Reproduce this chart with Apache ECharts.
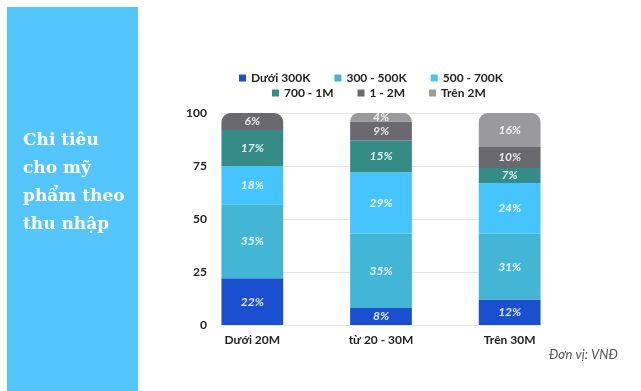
<!DOCTYPE html>
<html>
<head>
<meta charset="utf-8">
<script src="https://cdn.jsdelivr.net/npm/echarts@6/dist/echarts.min.js"></script>
<style>
html,body{margin:0;padding:0;background:#fff;}
#c{width:641px;height:391px;}
</style>
</head>
<body>
<div id="c"></div>
<script>
// ---- data ----
var categories = ['Dưới 20M', 'từ 20 - 30M', 'Trên 30M'];
var seriesNames = ['Dưới 300K', '300 - 500K', '500 - 700K', '700 - 1M', '1 - 2M', 'Trên 2M'];
var s300K  = [22, 8, 12];
var s300_500 = [35, 35, 31];
var s500_700 = [18, 29, 24];
var s700_1M = [17, 15, 7];
var s1_2M  = [8, 9, 10];
var sTren2M = [0, 4, 16];
// label texts as printed on the chart
var lbl300K  = ['22%', '8%', '12%'];
var lbl300_500 = ['35%', '35%', '31%'];
var lbl500_700 = ['18%', '29%', '24%'];
var lbl700_1M = ['17%', '15%', '7%'];
var lbl1_2M  = ['6%', '9%', '10%'];
var lblTren2M = ['', '4%', '16%'];
var yTicks = [0, 25, 50, 75, 100];
var titleText = 'Chi tiêu\ncho mỹ\nphẩm theo\nthu nhập';
var unitText = 'Đơn vị: VNĐ';

var colors = ['#1a4fcf', '#43b6d6', '#45c4fd', '#358c86', '#69696f', '#9a9a9c'];
var allValues = [s300K, s300_500, s500_700, s700_1M, s1_2M, sTren2M];
var allLabels = [lbl300K, lbl300_500, lbl500_700, lbl700_1M, lbl1_2M, lblTren2M];

// find top-most non-zero segment per category for rounded top
function isTop(si, ci) {
  for (var k = allValues.length - 1; k >= 0; k--) {
    if (allValues[k][ci] > 0) return k === si;
  }
  return false;
}

var series = allValues.map(function (vals, si) {
  return {
    name: seriesNames[si],
    type: 'bar',
    stack: 'total',
    xAxisIndex: 0,
    yAxisIndex: 0,
    barWidth: '48%',
    itemStyle: { color: colors[si] },
    data: vals.map(function (v, ci) {
      return {
        value: v,
        itemStyle: { borderRadius: isTop(si, ci) ? [9, 9, 0, 0] : 0 },
        label: { formatter: allLabels[si][ci] }
      };
    }),
    label: {
      show: true,
      position: 'inside',
      color: 'rgba(255,255,255,0.85)',
      fontStyle: 'italic',
      fontFamily: 'Lato',
      fontWeight: 'bold',
      fontSize: 12
    }
  };
});

var chart = echarts.init(document.getElementById('c'), null, { renderer: 'canvas' });
chart.setOption({
  animation: false,
  backgroundColor: '#ffffff',
  color: colors,
  legend: [
    {
      data: seriesNames.slice(0, 3),
      left: 234, top: 67,
      itemWidth: 7, itemHeight: 7, itemGap: 24,
      icon: 'rect',
      textStyle: { fontFamily: 'Lato', fontWeight: 'bold', fontSize: 12, color: '#222' }
    },
    {
      data: seriesNames.slice(3),
      left: 267, top: 82,
      itemWidth: 7, itemHeight: 7, itemGap: 24,
      icon: 'rect',
      textStyle: { fontFamily: 'Lato', fontWeight: 'bold', fontSize: 12, color: '#222' }
    }
  ],
  grid: [
    { left: 188, right: 67, top: 113, bottom: 66 },
    { left: 221, right: 100, top: 113, bottom: 66 }
  ],
  xAxis: [
    {
      type: 'category', gridIndex: 0, data: categories,
      axisLine: { show: false }, axisTick: { show: false },
      axisLabel: { margin: 9, fontFamily: 'Lato', fontWeight: 'bold', fontSize: 12, color: '#222' }
    },
    {
      type: 'value', gridIndex: 1, min: 0, max: 1, show: false
    }
  ],
  yAxis: [
    {
      type: 'value', gridIndex: 0, min: 0, max: 100, interval: 25,
      axisLabel: { show: false }, splitLine: { show: false },
      axisLine: { show: false }, axisTick: { show: false }
    },
    {
      type: 'value', gridIndex: 1, min: yTicks[0], max: yTicks[yTicks.length - 1], interval: 25,
      axisLine: { show: false }, axisTick: { show: false },
      splitLine: { show: true, lineStyle: { color: '#e6e6e6', width: 1 } },
      axisLabel: { margin: 14, fontFamily: 'Lato', fontWeight: 'bold', fontSize: 12, color: '#222' }
    }
  ],
  graphic: [
    {
      type: 'rect', z: -1,
      shape: { x: 7, y: 7, width: 131, height: 390 },
      style: { fill: '#55c5fd' }
    },
    {
      type: 'text', left: 23, top: 127,
      style: {
        text: titleText,
        fill: '#ffffff',
        font: 'bold 17px "DejaVu Serif"',
        lineHeight: 28
      }
    },
    {
      type: 'text', left: 549, top: 348,
      style: {
        text: unitText,
        fill: '#555555',
        font: 'italic 13px Lato'
      }
    }
  ],
  series: series
});
</script>
</body>
</html>
